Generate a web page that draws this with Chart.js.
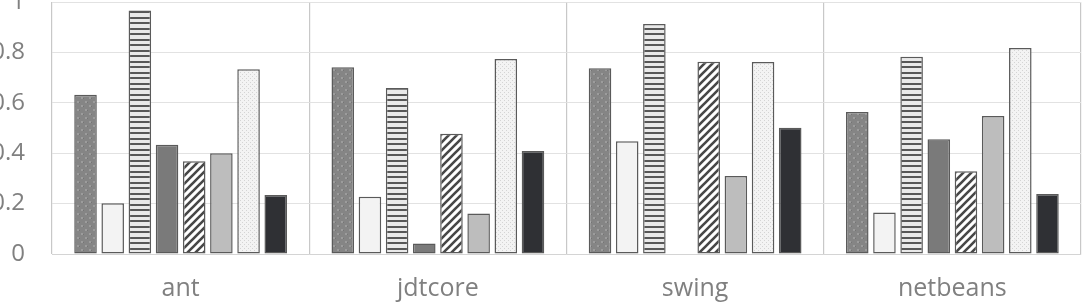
<!DOCTYPE html>
<html>
<head>
<meta charset="utf-8">
<script src="https://cdn.jsdelivr.net/npm/chart.js@4/dist/chart.umd.min.js"></script>
<style>
html,body{margin:0;padding:0;background:#fff;overflow:hidden;}
#wrap{position:relative;width:1083px;height:303px;}
</style>
</head>
<body>
<div id="wrap"><canvas id="c" width="1083" height="303"></canvas></div>
<script>
const categories = ['ant', 'jdtcore', 'swing', 'netbeans'];
const series1 = [0.632, 0.741, 0.737, 0.563];
const series2 = [0.201, 0.227, 0.447, 0.165];
const series3 = [0.966, 0.659, 0.913, 0.783];
const series4 = [0.434, 0.042, 0, 0.455];
const series5 = [0.368, 0.477, 0.763, 0.328];
const series6 = [0.400, 0.161, 0.310, 0.548];
const series7 = [0.733, 0.774, 0.762, 0.817];
const series8 = [0.234, 0.409, 0.501, 0.238];
const yMin = 0, yMax = 1, yStep = 0.2;

function makePattern(w, h, draw) {
  const c = document.createElement('canvas');
  c.width = w; c.height = h;
  const g = c.getContext('2d');
  draw(g, w, h);
  return g.createPattern(c, 'repeat');
}
const ctx = document.getElementById('c').getContext('2d');

const pDots = makePattern(8, 8, (g, w, h) => {
  g.fillStyle = '#858585'; g.fillRect(0, 0, w, h);
  g.fillStyle = '#9c9c9c'; g.fillRect(1, 1, 2, 2); g.fillRect(5, 5, 2, 2);
  g.fillStyle = '#747474'; g.fillRect(3, 2, 1, 1); g.fillRect(7, 6, 1, 1);
});
const pHoriz = makePattern(4, 11, (g, w, h) => {
  g.fillStyle = '#e9e9e9'; g.fillRect(0, 0, w, h);
  g.fillStyle = '#575757'; g.fillRect(0, 0, w, 2); g.fillRect(0, 6, w, 2);
});
const pDiag = makePattern(8, 8, (g, w, h) => {
  g.fillStyle = '#ffffff'; g.fillRect(0, 0, w, h);
  g.strokeStyle = '#474747'; g.lineWidth = 2.6;
  g.beginPath();
  g.moveTo(-1, 9); g.lineTo(9, -1);
  g.moveTo(-5, 5); g.lineTo(5, -5);
  g.moveTo(3, 13); g.lineTo(13, 3);
  g.stroke();
});
const pLightDots = makePattern(4, 4, (g, w, h) => {
  g.fillStyle = '#f3f3f3'; g.fillRect(0, 0, w, h);
  g.fillStyle = '#d4d4d4'; g.fillRect(0, 0, 1, 1); g.fillRect(2, 2, 1, 1);
});

const border = '#5a5a5a';
function ds(data, fill) {
  return { data: data, backgroundColor: fill, borderColor: border, borderWidth: 1.5,
           borderSkipped: false, barPercentage: 0.83, categoryPercentage: 0.845 };
}

new Chart(ctx, {
  type: 'bar',
  data: {
    labels: categories,
    datasets: [
      ds(series1, pDots),
      ds(series2, '#f3f3f3'),
      ds(series3, pHoriz),
      ds(series4, '#7a7a7a'),
      ds(series5, pDiag),
      ds(series6, '#bdbdbd'),
      ds(series7, pLightDots),
      ds(series8, '#2f3034')
    ]
  },
  options: {
    responsive: false,
    animation: false,
    events: [],
    layout: { padding: { top: 2, right: 2, bottom: 0, left: 0 } },
    plugins: { legend: { display: false }, tooltip: { enabled: false } },
    scales: {
      x: {
        grid: { display: true, offset: true, color: '#c8c8c8', lineWidth: 1.2, drawTicks: false },
        border: { display: true, color: '#d4d4d4', width: 1 },
        ticks: { color: '#808080', font: { family: 'Open Sans', size: 25 }, padding: 20 },
        afterFit: (s) => { s.height = 49; }
      },
      y: {
        min: yMin, max: yMax,
        grid: { color: '#e2e2e2', lineWidth: 1, drawTicks: false },
        border: { display: false },
        ticks: { stepSize: yStep, color: '#808080', font: { family: 'Open Sans', size: 24 }, padding: 27,
                 callback: (v) => String(+Number(v).toFixed(1)) },
        afterFit: (s) => { s.width = 52; s.paddingTop = 0; s.paddingBottom = 0; }
      }
    }
  }
});
</script>
</body>
</html>
